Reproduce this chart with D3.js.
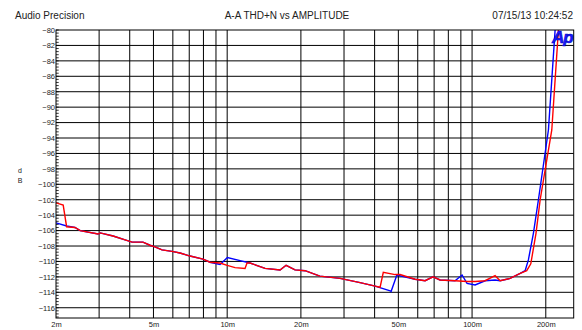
<!DOCTYPE html>
<html>
<head>
<meta charset="utf-8">
<script src="https://cdn.jsdelivr.net/npm/d3@7"></script>
<style>
  html, body { margin: 0; padding: 0; background: #fff; }
  svg { display: block; font-family: "Liberation Sans", Arial, sans-serif; }
</style>
</head>
<body>
<svg id="chart" width="582" height="330"></svg>
<script>
// Amplitude in volts, THD+N in dB
const blueAmp = [0.002, 0.00221, 0.00239, 0.00251, 0.00297, 0.00303, 0.00342, 0.00383, 0.00409, 0.00453,
  0.00484, 0.00507, 0.00542, 0.00595, 0.00642, 0.00705, 0.00797, 0.00851, 0.00935, 0.01002,
  0.01129, 0.0124, 0.01428, 0.01644, 0.0174, 0.01893, 0.0208, 0.0239, 0.0289, 0.0349,
  0.0402, 0.0463, 0.0467, 0.0493, 0.0585, 0.0643, 0.0693, 0.0740, 0.0852, 0.0910,
  0.0954, 0.1029, 0.113, 0.1242, 0.1302, 0.143, 0.1572, 0.1647, 0.1698, 0.178,
  0.1866, 0.205, 0.2183];
const blueDb = [-105.0, -105.4, -105.6, -106.0, -106.45, -106.3, -106.7, -107.2, -107.5, -107.5,
  -107.9, -108.1, -108.5, -108.7, -108.9, -109.3, -109.7, -110.1, -110.4, -109.5,
  -109.9, -110.2, -110.9, -111.1, -110.5, -111.1, -111.2, -111.9, -112.2, -112.75,
  -113.2, -113.8, -113.9, -111.75, -112.3, -112.5, -112.0, -112.4, -112.5, -111.75,
  -112.85, -113.05, -112.5, -112.4, -112.5, -112.2, -111.55, -111.2, -109.8, -106.35,
  -102.0, -92.96, -80.0];

const redAmp = [0.002, 0.00214, 0.00221, 0.00239, 0.00251, 0.00297, 0.00303, 0.00342, 0.00383, 0.00409,
  0.00453, 0.00484, 0.00507, 0.00542, 0.00595, 0.00642, 0.00705, 0.00797, 0.00851, 0.00935,
  0.0100, 0.01077, 0.01183, 0.01205, 0.0124, 0.01428, 0.01644, 0.0174, 0.01893, 0.0208,
  0.0239, 0.0289, 0.0349, 0.0402, 0.0421, 0.0434, 0.0485, 0.0508, 0.0585, 0.0643,
  0.0693, 0.0740, 0.0852, 0.0954, 0.1029, 0.113, 0.1242, 0.1302, 0.143, 0.1572,
  0.1672, 0.1737, 0.1824, 0.1897, 0.2116, 0.2252];
const redDb = [-102.4, -102.7, -105.5, -105.6, -106.0, -106.45, -106.3, -106.7, -107.2, -107.5,
  -107.5, -107.9, -108.1, -108.5, -108.7, -108.9, -109.3, -109.7, -110.1, -110.2,
  -110.5, -110.8, -110.9, -110.2, -110.2, -110.9, -111.1, -110.5, -111.1, -111.2,
  -111.9, -112.2, -112.75, -113.2, -113.35, -111.4, -111.7, -111.7, -112.3, -112.5,
  -112.0, -112.4, -112.5, -112.6, -112.6, -112.5, -111.85, -112.5, -112.2, -111.55,
  -111.2, -110.3, -106.35, -102.0, -92.96, -80.0];

const xTickValues = [0.002, 0.005, 0.01, 0.02, 0.05, 0.1, 0.2];
const xTickLabels = ["2m", "5m", "10m", "20m", "50m", "100m", "200m"];
const xGridValues = [0.003, 0.004, 0.005, 0.006, 0.007, 0.008, 0.009, 0.01,
  0.02, 0.03, 0.04, 0.05, 0.06, 0.07, 0.08, 0.09, 0.1, 0.2];
const yTickValues = d3.range(-80, -117, -2);

const plotLeft = 56, plotRight = 573.7, plotTop = 30, plotBottom = 318;

const svg = d3.select("#chart");

const x = d3.scaleLog().domain([0.002, 0.26]).range([plotLeft, plotRight]);
const y = d3.scaleLinear().domain([-80, -117.33]).range([plotTop, plotBottom]);

// Header texts
svg.append("text").attr("x", 15).attr("y", 19).attr("font-size", 10).attr("fill", "#222")
  .text("Audio Precision");
svg.append("text").attr("x", 287).attr("y", 19).attr("font-size", 10).attr("fill", "#222")
  .attr("text-anchor", "middle").text("A-A THD+N vs AMPLITUDE");
svg.append("text").attr("x", 573).attr("y", 19).attr("font-size", 10).attr("fill", "#222")
  .attr("text-anchor", "end").text("07/15/13 10:24:52");

// Y axis unit, stacked letters
svg.append("text").attr("x", 20).attr("y", 173).attr("font-size", 7).attr("text-anchor", "middle")
  .attr("fill", "#222").text("d");
svg.append("text").attr("x", 20).attr("y", 183).attr("font-size", 7).attr("text-anchor", "middle")
  .attr("fill", "#222").text("B");

// Grid
const grid = svg.append("g").attr("stroke", "#000").attr("stroke-width", 1);
grid.selectAll("line.v").data(xGridValues).join("line").attr("class", "v")
  .attr("x1", d => x(d)).attr("x2", d => x(d)).attr("y1", plotTop).attr("y2", plotBottom);
grid.selectAll("line.h").data(yTickValues.slice(1)).join("line").attr("class", "h")
  .attr("x1", plotLeft).attr("x2", plotRight).attr("y1", d => y(d)).attr("y2", d => y(d));

// Minor ticks on the left edge
const minor = d3.range(-80, -117.33, -0.4);
svg.append("g").attr("stroke", "#000").attr("stroke-width", 0.8)
  .selectAll("line").data(minor).join("line")
  .attr("x1", plotLeft).attr("x2", plotLeft + 2.7).attr("y1", d => y(d)).attr("y2", d => y(d));

// Y axis labels
const yAxis = d3.axisLeft(y).tickValues(yTickValues).tickSize(0).tickPadding(1)
  .tickFormat(d => d3.format("d")(d));
const gy = svg.append("g").attr("transform", `translate(${plotLeft},0)`).call(yAxis);
gy.select(".domain").remove();
gy.selectAll("text").attr("font-size", 7.5).attr("font-family", "Liberation Sans, Arial, sans-serif")
  .attr("fill", "#222");

// X axis labels
const xAxis = d3.axisBottom(x).tickValues(xTickValues).tickSize(0).tickPadding(4)
  .tickFormat((d, i) => xTickLabels[i]);
const gx = svg.append("g").attr("transform", `translate(0,${plotBottom})`).call(xAxis);
gx.select(".domain").remove();
gx.selectAll("text").attr("font-size", 7.5).attr("font-family", "Liberation Sans, Arial, sans-serif")
  .attr("fill", "#222");

// Curves
svg.append("defs").append("clipPath").attr("id", "plotclip").append("rect")
  .attr("x", plotLeft).attr("y", plotTop).attr("width", plotRight - plotLeft).attr("height", plotBottom - plotTop);

const line = d3.line().x(d => x(d[0])).y(d => y(d[1]));
const plot = svg.append("g").attr("clip-path", "url(#plotclip)");
plot.append("path").datum(blueAmp.map((a, i) => [a, blueDb[i]]))
  .attr("fill", "none").attr("stroke", "#0000ff").attr("stroke-width", 1.4).attr("d", line);
plot.append("path").datum(redAmp.map((a, i) => [a, redDb[i]]))
  .attr("fill", "none").attr("stroke", "#ff0000").attr("stroke-width", 1.4).attr("d", line);

// Frame
svg.append("rect").attr("x", plotLeft).attr("y", plotTop).attr("width", plotRight - plotLeft).attr("height", plotBottom - plotTop)
  .attr("fill", "none").attr("stroke", "#000").attr("stroke-width", 1);

// Logo
svg.append("text").attr("x", 552).attr("y", 43).attr("font-size", 17).attr("font-weight", "bold")
  .attr("font-style", "italic").attr("fill", "#1a1aff").attr("stroke", "#0000c0").attr("stroke-width", 0.6)
  .attr("letter-spacing", -1).text("Ap");
</script>
</body>
</html>
